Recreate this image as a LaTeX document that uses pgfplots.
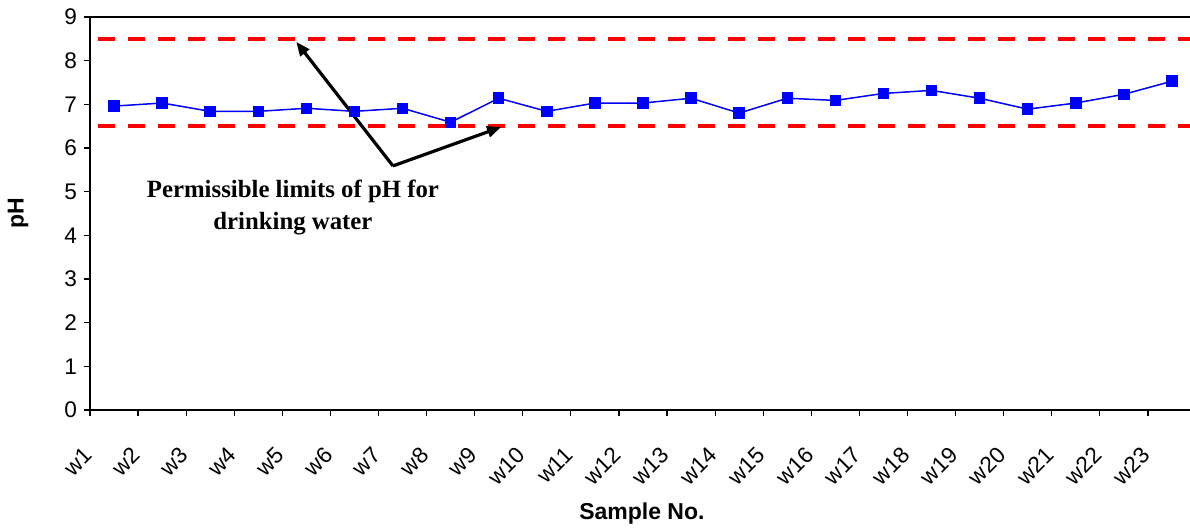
\documentclass[border=0pt]{standalone}
\usepackage{fontspec}
\setmainfont{Liberation Sans}
\newfontfamily\serifbold{Liberation Serif}
\usepackage{pgfplots}
\pgfplotsset{compat=1.18}
\usetikzlibrary{arrows.meta}
\begin{document}
\begin{tikzpicture}
\useasboundingbox (-45pt,-60.5pt) rectangle (550pt,205pt);
\begin{axis}[
  scale only axis,
  width=553pt, height=196.5pt,
  xmin=0.5, xmax=23.5, ymin=0, ymax=9,
  axis lines=left,
  axis line style={black, line width=0.8pt, -},
  ytick={0,1,...,9},
  tick align=outside,
  major tick length=3pt,
  tick style={black, line width=0.6pt},
  xtick={0.5,1.5,...,23.5},
  xticklabels={},
  extra x ticks={1,2,...,23},
  extra x tick labels={w1,w2,w3,w4,w5,w6,w7,w8,w9,w10,w11,w12,w13,w14,w15,w16,w17,w18,w19,w20,w21,w22,w23},
  extra x tick style={major tick length=0pt, grid=none},
  xticklabel style={xshift=-15.8pt, yshift=-12.9pt, rotate=45, anchor=north east, font=\fontsize{11.3}{13}\selectfont},
  yticklabel style={font=\fontsize{11.3}{13}\selectfont},
  /pgf/number format/assume math mode=true,
  ylabel={\textbf{pH}},
  ylabel style={font=\fontsize{11.5}{13}\selectfont, anchor=center, at={(axis description cs:-0.065,0.5)}},
  xlabel={\textbf{Sample No.}},
  xlabel style={font=\fontsize{11.5}{13}\selectfont, anchor=center, at={(axis description cs:0.499,-0.264)}},
  clip=false,
]
\addplot[red, line width=2pt, dash pattern=on 8.5pt off 6.5pt, dash phase=-4pt] coordinates {(0.5,8.5) (23.5,8.5)};
\addplot[red, line width=2pt, dash pattern=on 8.5pt off 6.5pt, dash phase=-4pt] coordinates {(0.5,6.5) (23.5,6.5)};
\addplot[blue, line width=0.75pt, mark=square*, mark size=2.5pt, mark options={solid}] coordinates {
(1,6.96) (2,7.03) (3,6.84) (4,6.84) (5,6.91) (6,6.84) (7,6.91) (8,6.59) (9,7.14) (10,6.84) (11,7.03) (12,7.03) (13,7.14) (14,6.80) (15,7.14) (16,7.09) (17,7.25) (18,7.32) (19,7.14) (20,6.89) (21,7.03) (22,7.23) (23,7.53)
};
\draw[black, line width=0.8pt] (rel axis cs:0,1) -- (rel axis cs:1,1);
\draw[black, line width=1.6pt, -{Triangle[length=7pt,width=5.5pt]}] (axis cs:6.80,5.59) -- (axis cs:4.79,8.43);
\draw[black, line width=1.6pt, -{Triangle[length=7pt,width=5.5pt]}] (axis cs:6.80,5.59) -- (axis cs:9.05,6.48);
\node[align=center, font=\serifbold\bfseries\fontsize{12.4}{16}\selectfont] at (axis cs:4.72,4.64) {Permissible limits of pH for\\drinking water};
\end{axis}
\end{tikzpicture}
\end{document}
